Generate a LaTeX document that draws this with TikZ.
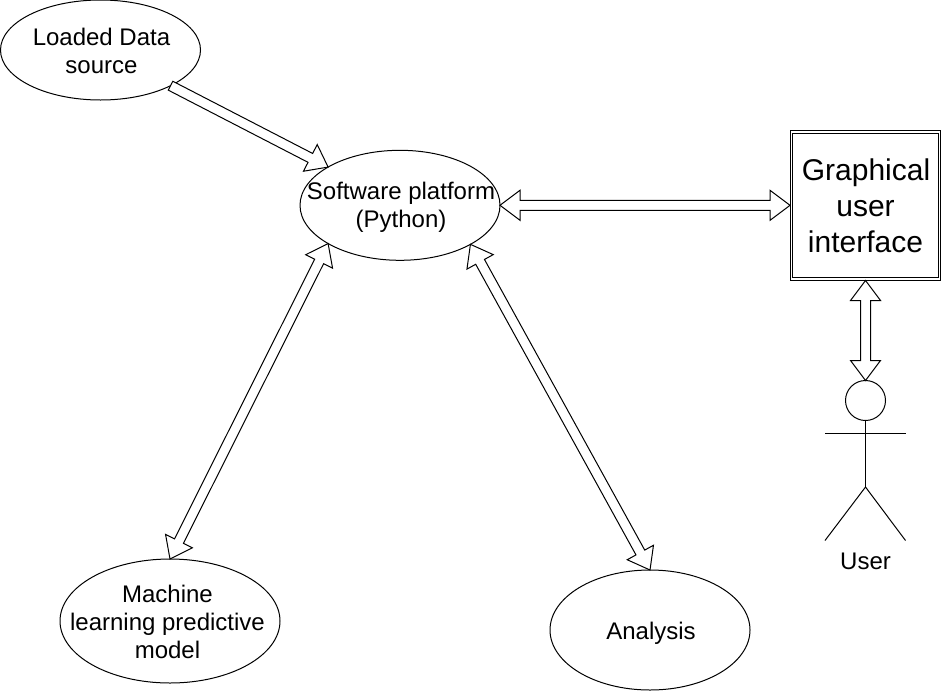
\documentclass[tikz,border=0pt]{standalone}
\usepackage{fontspec}
\setmainfont{Liberation Sans}
\usetikzlibrary{shapes.geometric,calc}
\tikzset{
  blob/.style={draw,ellipse,inner sep=-70pt,outer sep=0pt,line width=1pt,align=center,font=\labelfont},
  guibox/.style={draw,rectangle,double,line width=1pt,double distance=1.4pt,inner sep=0pt,outer sep=1.7pt,align=center,
    minimum width=147.6pt,minimum height=147pt,font=\guifont},
  headdisc/.style={draw,circle,line width=1pt,inner sep=0pt,outer sep=0pt,minimum size=40pt},
  caption/.style={inner sep=0pt,font=\labelfont},
  limb/.style={line width=1pt},
  fatone/.style={draw,fill=white,line width=1pt,line join=miter,to path={
    ($(\tikztostart)!5pt!90:(\tikztotarget)$)
    -- ($(\tikztotarget)!20pt!(\tikztostart)!5pt!-90:(\tikztostart)$)
    -- ($(\tikztotarget)!20pt!(\tikztostart)!15pt!-90:(\tikztostart)$)
    -- (\tikztotarget)
    -- ($(\tikztotarget)!20pt!(\tikztostart)!15pt!90:(\tikztostart)$)
    -- ($(\tikztotarget)!20pt!(\tikztostart)!5pt!90:(\tikztostart)$)
    -- ($(\tikztostart)!5pt!-90:(\tikztotarget)$)
    -- cycle}},
  fatboth/.style={draw,fill=white,line width=1pt,line join=miter,to path={
    -- ($(\tikztostart)!20pt!(\tikztotarget)!15pt!90:(\tikztotarget)$)
    -- ($(\tikztostart)!20pt!(\tikztotarget)!5pt!90:(\tikztotarget)$)
    -- ($(\tikztotarget)!20pt!(\tikztostart)!5pt!-90:(\tikztostart)$)
    -- ($(\tikztotarget)!20pt!(\tikztostart)!15pt!-90:(\tikztostart)$)
    -- (\tikztotarget)
    -- ($(\tikztotarget)!20pt!(\tikztostart)!15pt!90:(\tikztostart)$)
    -- ($(\tikztotarget)!20pt!(\tikztostart)!5pt!90:(\tikztostart)$)
    -- ($(\tikztostart)!20pt!(\tikztotarget)!5pt!-90:(\tikztotarget)$)
    -- ($(\tikztostart)!20pt!(\tikztotarget)!15pt!-90:(\tikztotarget)$)
    -- cycle}}
}
\newcommand\labelfont{\fontsize{24}{28}\selectfont}
\newcommand\guifont{\fontsize{30}{36}\selectfont}
\newcommand\tallline[1]{\rule{0pt}{#1}}
\newcommand\nudge{\hbox{}\kern2pt}
\begin{document}
\begin{tikzpicture}[x=1pt,y=-1pt]
\useasboundingbox (0,0) rectangle (941,691);
\node[blob,minimum width=200pt,minimum height=100pt] (source) at (100.5,50) {\tallline{19.5pt}\nudge Loaded Data\\\nudge source};
\node[blob,minimum width=200pt,minimum height=110pt] (platform) at (400,205.3) {\tallline{21.5pt}\nudge Software platform\\\nudge (Python)};
\node[blob,minimum width=220pt,minimum height=124pt] (model) at (170,621) {\tallline{19.5pt}Machine\kern5pt\\learning predictive\kern5pt\\model\kern5pt};
\node[blob,minimum width=200pt,minimum height=120pt] (analysis) at (650,630) {\tallline{23.5pt}\nudge Analysis};
\node[guibox] (gui) at (865.5,205.3) {\hbox{}\kern1pt Graphical\\user\\interface};
\node[headdisc] (head) at (865.5,400.5) {};
\coordinate (armL) at (825,433.5);
\coordinate (armR) at (905.5,433.5);
\coordinate (hip) at (865.5,487);
\coordinate (footL) at (825,540.5);
\coordinate (footR) at (905.5,540.5);
\node[caption] (userlabel) at (865.5,561.5) {User};
\draw[limb] (head.south) -- (hip);
\draw[limb] (armL) -- (armR);
\draw[limb] (footL) -- (hip) -- (footR);
\path[fatone] (source.333.4) to (platform.152);
\path[fatboth] (platform.east) to (gui.west);
\path[fatboth] (gui.south) to (head.north);
\path[fatboth] (platform.208.8) to (model.north);
\path[fatboth] (platform.331.2) to (analysis.north);
\end{tikzpicture}
\end{document}
